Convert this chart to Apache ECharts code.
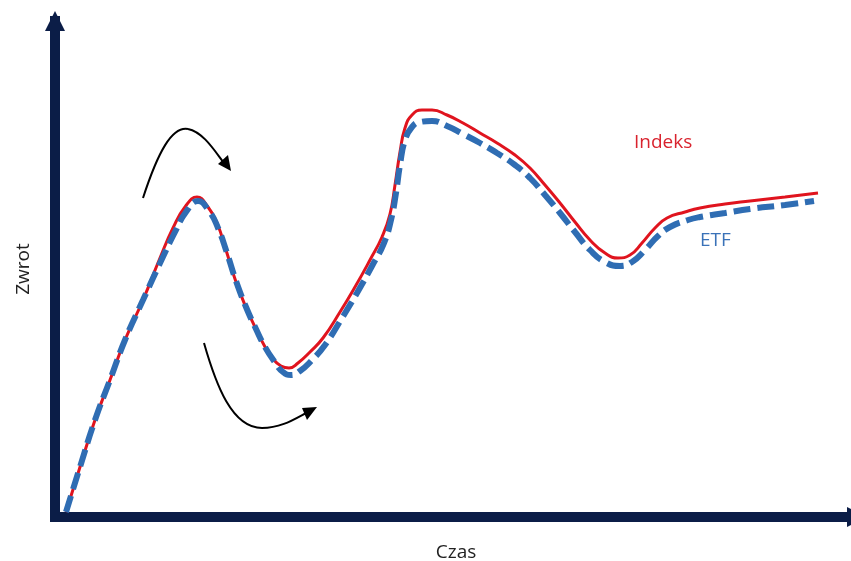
<!DOCTYPE html>
<html>
<head>
<meta charset="utf-8">
<script src="https://cdn.jsdelivr.net/npm/echarts@6/dist/echarts.min.js"></script>
<style>html,body{margin:0;padding:0;background:#fff;}#c{width:851px;height:561px;}</style>
</head>
<body>
<div id="c"></div>
<script>
// Czas (time) and Zwrot (return) values
const indeksCzas = [11,25,40,55,70,88,105,118,130,142,153,162,171,180,190,200,209,218,226,234,243,255,268,285,300,315,327,335,340,345,350,357,367,377,392,408,425,442,460,475,490,505,520,535,550,563,575,587,600,612,630,645,670,695,730,763];
const indeksZwrot = [5,50,97,137,177,217,259,289,310,320,310,294,267,238,212,190,172,158,151,149,154,165,179,205,230,257,280,303,332,365,389,402,407,407,402,394,384,374,362,349,332,314,295,277,264,259,262,274,289,299,305,309,313,316,320,324];
const etfCzas = [11,25,40,55,70,88,106,120,131,143,154,163,172,181,191,201,210,219,228,236,245,257,270,287,302,317,329,336,341,345,350,357,365,377,392,408,425,442,460,475,490,505,520,535,550,565,577,590,603,615,633,645,670,695,730,759];
const etfZwrot = [5,50,97,137,177,217,256,285,305,316,306,289,264,236,210,188,170,156,145,142,146,157,172,199,224,251,274,297,324,352,377,390,395,396,391,383,374,364,352,339,322,304,285,267,255,251,255,267,281,290,297,300,304,308,312,316];
const seriesNames = ['Indeks', 'ETF'];
const axisNames = ['Czas', 'Zwrot'];

const zip = (a, b) => a.map((v, i) => [v, b[i]]);
const navy = '#0b1d47';
const red = '#e0141e';
const blue = '#2f6db3';

const chart = echarts.init(document.getElementById('c'), null, {renderer: 'canvas'});
chart.setOption({
  animation: false,
  backgroundColor: '#ffffff',
  grid: {left: 55, top: 21, width: 802, height: 496, containLabel: false, outerBoundsMode: 'none'},
  xAxis: {
    type: 'value', min: 0, max: 802,
    name: axisNames[0], nameLocation: 'middle', nameGap: 26,
    nameTextStyle: {color: '#222', fontSize: 19, fontFamily: 'Open Sans'},
    axisLine: {onZero: false, lineStyle: {color: navy, width: 10, cap: 'square'}, symbol: ['none', 'triangle'], symbolSize: [20, 20]},
    axisTick: {show: false}, axisLabel: {show: false}, splitLine: {show: false}
  },
  yAxis: {
    type: 'value', min: 0, max: 496,
    name: axisNames[1], nameLocation: 'middle', nameGap: 22, nameRotate: 90,
    nameTextStyle: {color: '#222', fontSize: 19, fontFamily: 'Open Sans'},
    axisLine: {onZero: false, lineStyle: {color: navy, width: 10, cap: 'square'}, symbol: ['none', 'triangle'], symbolSize: [20, 20]},
    axisTick: {show: false}, axisLabel: {show: false}, splitLine: {show: false}
  },
  series: [
    {
      name: seriesNames[0], type: 'line', data: zip(indeksCzas, indeksZwrot),
      smooth: 0.5, showSymbol: false, z: 3,
      lineStyle: {color: red, width: 3}
    },
    {
      name: seriesNames[1], type: 'line', data: zip(etfCzas, etfZwrot),
      smooth: 0.5, showSymbol: false, z: 4,
      lineStyle: {color: blue, width: 6, type: [17, 7], cap: 'butt'}
    }
  ],
  graphic: [
    {type: 'text', x: 634, y: 133, style: {text: seriesNames[0], fill: '#d9232e', fontSize: 19, fontFamily: 'Open Sans'}},
    {type: 'text', x: 700, y: 231, style: {text: seriesNames[1], fill: '#3a72b8', fontSize: 19, fontFamily: 'Open Sans'}},
    {type: 'bezierCurve', shape: {x1: 143, y1: 198, cpx1: 158, cpy1: 152, cpx2: 172, cpy2: 126, x2: 188, y2: 129}, style: {stroke: '#000', lineWidth: 2, fill: null}},
    {type: 'bezierCurve', shape: {x1: 188, y1: 129, cpx1: 203, cpy1: 132, cpx2: 214, cpy2: 150, x2: 224, y2: 163}, style: {stroke: '#000', lineWidth: 2, fill: null}},
    {type: 'polygon', shape: {points: [[231,171],[218,164],[228,155]]}, style: {fill: '#000'}},
    {type: 'bezierCurve', shape: {x1: 204, y1: 343, cpx1: 216, cpy1: 385, cpx2: 232, cpy2: 428, x2: 262, y2: 428}, style: {stroke: '#000', lineWidth: 2, fill: null}},
    {type: 'bezierCurve', shape: {x1: 262, y1: 428, cpx1: 282, cpy1: 428, cpx2: 296, cpy2: 418, x2: 308, y2: 412}, style: {stroke: '#000', lineWidth: 2, fill: null}},
    {type: 'polygon', shape: {points: [[317,407],[307,420],[302,408]]}, style: {fill: '#000'}}
  ]
});
</script>
</body>
</html>
